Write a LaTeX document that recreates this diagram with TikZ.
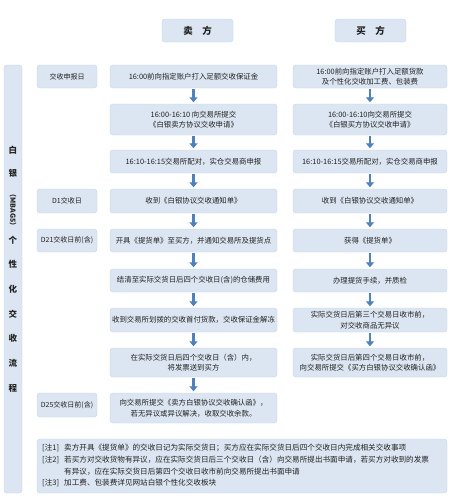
\documentclass[tikz,border=0pt]{standalone}
\usepackage{fontspec}
\setmainfont{Noto Sans CJK SC}
\usetikzlibrary{arrows.meta}
\definecolor{ink}{HTML}{222222}
\definecolor{boxfill}{HTML}{DCE6F2}
\definecolor{boxline}{HTML}{C3D4EA}
\definecolor{flow}{HTML}{4F81BD}

\tikzset{
  cell/.style={draw=boxline,fill=boxfill,rounded corners=3pt,align=center,text=ink,
    font=\fontsize{7.4}{10.5}\selectfont,inner sep=1pt},
  sellbox/.style={cell,minimum width=167pt},
  buybox/.style={cell,minimum width=154pt},
  daybox/.style={cell,minimum width=60pt,font=\fontsize{7}{9}\selectfont},
  sidetext/.style={text=ink,font=\fontsize{8.5}{10}\selectfont\bfseries,inner sep=0pt},
  notetext/.style={text=ink,font=\fontsize{7.6}{9}\selectfont,inner sep=0pt,anchor=west},
  flowarrow/.style={-{Triangle[width=8pt,length=5pt]},line width=2.6pt,flow,shorten <=1pt,shorten >=1.5pt},
}

\begin{document}
\begin{tikzpicture}[x=1pt,y=-1pt]
\useasboundingbox[fill=white] (0,0) rectangle (450,498);

% headers
\node[cell,minimum width=71pt,minimum height=23pt,font=\fontsize{9.5}{11}\selectfont\bfseries] (hs) at (197.5,30.5) {卖\quad 方};
\node[cell,minimum width=71pt,minimum height=23pt,font=\fontsize{9.5}{11}\selectfont\bfseries] (hb) at (370.5,30.5) {买\quad 方};

% side title
\node[cell,minimum width=18pt,minimum height=428pt] (side) at (13,279) {};
\foreach \ch/\yy in {白/150,银/173,个/240,性/264,化/289,交/314,收/338,流/363,程/388}
  \node[sidetext] (v\yy) at (13,\yy) {\ch};
\node[sidetext,rotate=-90,font=\fontsize{7}{8}\selectfont\bfseries] (vcode) at (13,210) {（MBAG5）};

% day labels
\node[daybox,minimum height=23pt] (d1) at (67,76.5) {交收申报日};
\node[daybox,minimum height=24pt] (d2) at (67,201) {D1交收日};
\node[daybox,minimum height=23pt] (d3) at (67,240.5) {D21交收日前(含)};
\node[daybox,minimum height=24pt] (d4) at (67,405) {D25交收日前(含)};

% seller
\node[sellbox,minimum height=23pt] (s1) at (193.5,76.5) {16:00前向指定账户打入足额交收保证金};
\node[sellbox,minimum height=31pt] (s2) at (193.5,119.5) {16:00-16:10 向交易所提交\\《白银卖方协议交收申请》};
\node[sellbox,minimum height=23pt] (s3) at (193.5,161.5) {16:10-16:15交易所配对，实仓交易商申报};
\node[sellbox,minimum height=24pt] (s4) at (193.5,201) {收到《白银协议交收通知单》};
\node[sellbox,minimum height=23pt] (s5) at (193.5,240.5) {开具《提货单》至买方，并通知交易所及提货点};
\node[sellbox,minimum height=23pt] (s6) at (193.5,280.5) {结清至实际交货日后四个交收日(含)的仓储费用};
\node[sellbox,minimum height=24pt,inner xsep=0pt] (s7) at (193.5,320) {收到交易所划拨的交收首付货款，交收保证金解冻};
\node[sellbox,minimum height=29pt] (s8) at (193.5,362.5) {在实际交货日后四个交收日（含）内，\\将发票送到买方};
\node[sellbox,minimum height=30pt] (s9) at (193.5,408) {向交易所提交《卖方白银协议交收确认函》，\\若无异议或异议解决，收取交收余款。};

% buyer
\node[buybox,minimum height=23pt] (b1) at (370,76.5) {16:00前向指定账户打入足额货款\\及个性化交收加工费、包装费};
\node[buybox,minimum height=31pt] (b2) at (370,119.5) {16:00-16:10向交易所提交\\《白银买方协议交收申请》};
\node[buybox,minimum height=23pt] (b3) at (370,161.5) {16:10-16:15交易所配对，实仓交易商申报};
\node[buybox,minimum height=24pt] (b4) at (370,201) {收到《白银协议交收通知单》};
\node[buybox,minimum height=23pt] (b5) at (370,240.5) {获得《提货单》};
\node[buybox,minimum height=23pt] (b6) at (370,280.5) {办理提货手续，并质检};
\node[buybox,minimum height=24pt] (b7) at (370,320) {实际交货日后第三个交易日收市前，\\对交收商品无异议};
\node[buybox,minimum height=29pt] (b8) at (370,362.5) {实际交货日后第四个交易日收市前，\\向交易所提交《买方白银协议交收确认函》};

% flow
\foreach \i [evaluate=\i as \j using int(\i+1)] in {1,...,8}
  \draw[flowarrow] (s\i) -- (s\j);
\foreach \i [evaluate=\i as \j using int(\i+1)] in {1,...,7}
  \draw[flowarrow] (b\i) -- (b\j);

% notes
\node[cell,minimum width=410pt,minimum height=54pt] (notes) at (242,466) {};
\node[notetext] (t1) at (42,448) {[注1]};
\node[notetext] (n1) at (64,448) {卖方开具《提货单》的交收日记为实际交货日；买方应在实际交货日后四个交收日内完成相关交收事项};
\node[notetext] (t2) at (42,460) {[注2]};
\node[notetext] (n2) at (64,460) {若买方对交收货物有异议，应在实际交货日后三个交收日（含）向交易所提出书面申请，若买方对收到的发票};
\node[notetext] (n2b) at (64,472) {有异议，应在实际交货日后第四个交收日收市前向交易所提出书面申请};
\node[notetext] (t3) at (42,483) {[注3]};
\node[notetext] (n3) at (64,483) {加工费、包装费详见网站白银个性化交收板块};
\end{tikzpicture}
\end{document}
